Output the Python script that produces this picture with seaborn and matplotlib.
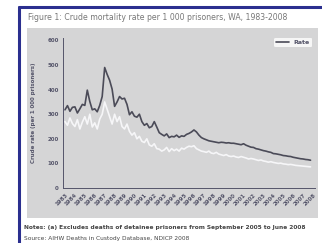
import matplotlib
matplotlib.use("Agg")
import matplotlib.pyplot as plt
import seaborn as sns
import pandas as pd
import numpy as np
from matplotlib.lines import Line2D

start_year = 1983
years_label = [str(y) for y in range(1983, 2009)]

rate_dark = [318, 335, 312, 328, 330, 305, 322, 340, 336, 398, 352, 318,
             322, 310, 336, 372, 490, 462, 438, 402, 332, 350, 372, 362,
             365, 340, 298, 310, 292, 288, 300, 270, 255, 262, 245, 250,
             270, 248, 225, 218, 212, 220, 205, 210, 208, 215, 206, 212,
             210, 218, 222, 228, 236, 228, 215, 205, 200, 196, 192, 190,
             188, 186, 184, 186, 185, 183, 184, 182, 182, 180, 178, 176,
             180, 174, 170, 166, 165, 160, 158, 155, 152, 150, 147, 145,
             140, 139, 137, 135, 132, 131, 129, 128, 125, 123, 121, 119,
             118, 116, 115, 113]

rate_light = [270, 255, 285, 262, 250, 278, 240, 268, 290, 260, 300, 248,
              265, 240, 280, 300, 350, 320, 290, 260, 300, 270, 290, 250,
              240, 260, 230, 215, 225, 200, 210, 190, 185, 200, 175, 170,
              180, 160, 158, 150, 155, 165, 148, 160, 152, 158, 150, 162,
              158, 165, 170, 168, 172, 160, 155, 150, 148, 145, 150, 142,
              140, 145, 138, 135, 132, 136, 130, 128, 130, 126, 124, 128,
              125, 122, 118, 120, 118, 115, 112, 114, 110, 108, 105, 107,
              104, 102, 100, 101, 98, 97, 95, 96, 94, 92, 91, 90,
              89, 88, 87, 86]

yticks = [0, 100, 200, 300, 400, 500, 600]

t = [start_year + i * 0.25 for i in range(len(rate_dark))]
df = pd.DataFrame({"t": t + t,
                   "rate": rate_dark + rate_light,
                   "series": ["Rate"] * len(t) + ["Other"] * len(t)})

sns.set_style("white")
fig = plt.figure(figsize=(3.22, 2.43), dpi=100)
fig.patch.set_facecolor("white")

# gray panel as background axes
bg = fig.add_axes([27/322, 1 - 218/243, (318-27)/322, (218-28)/243], zorder=-1)
bg.set_facecolor("#d5d5d6")
bg.set_xticks([]); bg.set_yticks([])
for s in bg.spines.values():
    s.set_visible(False)

# blue border
fig.add_artist(Line2D([19/322, 19/322], [0, 1 - 7/243], transform=fig.transFigure,
                      color="#2b2f8f", lw=2.2))
fig.add_artist(Line2D([19/322, 1], [1 - 7/243, 1 - 7/243], transform=fig.transFigure,
                      color="#2b2f8f", lw=2.2))

ax = fig.add_axes([63/322, 1 - 188/243, (315-63)/322, (188-38)/243], zorder=2)
ax.set_facecolor("none")
sns.lineplot(data=df, x="t", y="rate", hue="series",
             palette={"Rate": "#4b4b58", "Other": "#f6f6f8"},
             hue_order=["Other", "Rate"], lw=1.2, ax=ax, legend=False)

ax.set_xlim(1982.8, 2008.2)
ax.set_ylim(0, 610)
ax.set_yticks(yticks)
ax.set_yticklabels([str(v) for v in yticks], fontsize=4, color="#55556a",
                   fontweight="bold")
ax.set_xticks(range(1983, 2009))
ax.set_xticklabels(years_label, rotation=45, fontsize=4, color="#6a6a88",
                   fontweight="bold", ha="right", rotation_mode="anchor")
ax.tick_params(axis="both", direction="in", length=2, width=0.6,
               colors="#55556a", pad=3)
for s in ["top", "right"]:
    ax.spines[s].set_visible(False)
ax.spines["left"].set_color("#55556a")
ax.spines["bottom"].set_color("#55556a")
ax.spines["left"].set_linewidth(0.7)
ax.spines["bottom"].set_linewidth(0.7)
ax.set_xlabel("")
ax.set_ylabel("Crude rate (per 1 000 prisoners)", fontsize=4, color="#55556a",
              fontweight="bold", labelpad=8)

leg = ax.legend(handles=[Line2D([], [], color="#4b4b58", lw=1.2)], labels=["Rate"],
                loc="upper right", fontsize=4.5, frameon=True, handlelength=2,
                borderpad=0.3, bbox_to_anchor=(1.0, 1.02))
leg.get_frame().set_edgecolor("none")
leg.get_frame().set_facecolor("white")
for tx in leg.get_texts():
    tx.set_fontweight("bold")
    tx.set_color("#55556a")

fig.text(28/322, 1 - 18/243,
         "Figure 1: Crude mortality rate per 1 000 prisoners, WA, 1983-2008",
         fontsize=5.6, color="#777777", va="center", ha="left")
fig.text(24/322, 1 - 227/243,
         "Notes: (a) Excludes deaths of detainee prisoners from September 2005 to June 2008",
         fontsize=4.2, color="#444444", va="center", ha="left", fontweight="bold")
fig.text(24/322, 1 - 238/243,
         "Source: AIHW Deaths in Custody Database, NDICP 2008",
         fontsize=4.2, color="#444444", va="center", ha="left")

fig.savefig("out.png", dpi=100)
